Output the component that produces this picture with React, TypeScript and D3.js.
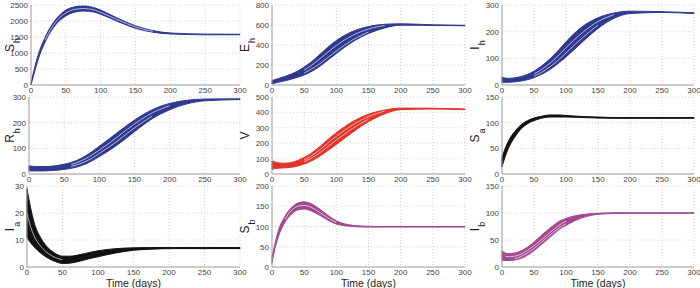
import React from 'react';
import * as d3 from 'd3';

// sample times (days)
const T = [0, 5, 10, 20, 30, 40, 50, 60, 75, 90, 100, 125, 150, 175, 200, 250, 300];
const xTicks = [0, 50, 100, 150, 200, 250, 300];
const _ = null;

// S_h
const shUpper = [60, 520, 920, 1480, 1880, 2160, 2340, 2430, 2470, 2420, 2340, 2080, 1850, 1700, 1625, 1590, 1585];
const shLower = [0, 400, 780, 1330, 1720, 1990, 2160, 2260, 2310, 2280, 2210, 1980, 1770, 1650, 1595, 1570, 1570];
const shWhite = [_, _, _, 1400, 1800, 2080, 2250, 2350, 2390, 2350, 2270, 2030, 1810, 1675, _, _, _];
// E_h
const ehUpper = [45, 55, 65, 85, 110, 140, 180, 225, 310, 395, 445, 535, 585, 607, 612, 602, 597];
const ehLower = [10, 20, 28, 42, 58, 78, 100, 130, 190, 265, 315, 430, 515, 570, 598, 596, 592];
const ehWhite1 = [_, _, _, _, _, _, 150, 190, 265, 345, 395, 495, 560, 595, _, _, _];
const ehWhite2 = [_, _, _, _, _, _, 120, 155, 215, 290, 340, 450, 530, _, _, _, _];
// I_h
const ihUpper = [30, 26, 25, 27, 32, 40, 52, 68, 98, 135, 162, 218, 252, 270, 277, 275, 271];
const ihLower = [10, 10, 10, 12, 15, 20, 28, 38, 58, 85, 105, 160, 212, 250, 268, 272, 268];
const ihWhite1 = [_, _, _, _, _, _, 42, 55, 82, 115, 140, 195, 238, 264, _, _, _];
const ihWhite2 = [_, _, _, _, _, _, 34, 45, 68, 98, 120, 176, 225, _, _, _, _];
// R_h
const rhUpper = [32, 30, 29, 29, 30, 33, 38, 45, 62, 88, 108, 160, 210, 250, 275, 292, 293];
const rhLower = [12, 12, 12, 12, 13, 15, 18, 22, 33, 52, 68, 112, 165, 215, 250, 285, 290];
const rhWhite1 = [_, _, _, _, _, _, _, 37, 52, 75, 93, 143, 195, 238, 266, _, _];
const rhWhite2 = [_, _, _, _, _, _, _, 30, 42, 62, 80, 127, 180, 225, _, _, _];
// V
const vUpper = [85, 78, 72, 70, 75, 88, 108, 132, 180, 235, 268, 340, 388, 415, 428, 427, 422];
const vLower = [30, 35, 38, 40, 44, 52, 65, 82, 118, 162, 192, 270, 340, 390, 418, 422, 418];
const vWhite1 = [_, _, _, _, _, _, 92, 115, 160, 212, 245, 318, 373, 408, _, _, _];
const vWhite2 = [_, _, _, _, _, _, 80, 100, 140, 188, 220, 295, 356, _, _, _, _];
// S_a
const saUpper = [32, 50, 64, 83, 96, 104, 109, 112, 115, 115, 114, 112, 111, 110, 110, 110, 110];
const saLower = [14, 34, 50, 72, 88, 98, 104, 108, 111, 111, 111, 110, 109, 108.5, 108.5, 108.5, 108.5];
// I_a
const iaUpper = [29, 22, 16.5, 10.5, 7, 5, 4, 4, 4.6, 5.5, 6, 6.8, 7.1, 7.2, 7.2, 7.2, 7.2];
const iaLower = [11, 9, 7.5, 5, 3.2, 2, 1.3, 1.4, 2.2, 3.2, 3.8, 5.2, 6.2, 6.6, 6.8, 6.8, 6.8];
const iaWhite = [20, 15, 11.5, 7.5, 5, 3.5, 2.7, _, _, _, _, _, _, _, _, _, _];
// S_b
const sbUpper = [25, 60, 90, 125, 146, 158, 161, 157, 142, 124, 114, 103, 100.5, 100, 100, 100, 100];
const sbLower = [10, 48, 75, 110, 130, 141, 143, 139, 127, 113, 106, 100, 98.5, 98.5, 98.5, 98.5, 98.5];
const sbWhite = [_, _, _, 118, 139, 150, 152, 148, 134, 118, 110, _, _, _, _, _, _];
// I_b
const ibUpper = [30, 26, 25, 26, 30, 37, 46, 57, 72, 85, 90, 97, 99.5, 100.5, 100.5, 100.5, 100.5];
const ibLower = [12, 12, 12, 13, 16, 22, 30, 40, 55, 70, 77, 91, 97.5, 99, 99.5, 99.5, 99.5];
const ibWhite1 = [_, 20, 19, 20, 24, 31, 39, 49, 64, 78, 85, _, _, _, _, _, _];
const ibWhite2 = [_, _, _, 15.5, 19.5, 26, 34, 44, 59, 73, 80, _, _, _, _, _, _];

const BLUE = '#2f3990';
const RED = '#e5322b';
const BLACK = '#111111';
const PURPLE = '#a2498f';

const panels = [
  { main: 'S', sub: 'h', color: BLUE, upper: shUpper, lower: shLower, whites: [shWhite], yTicks: [0, 500, 1000, 1500, 2000, 2500] },
  { main: 'E', sub: 'h', color: BLUE, upper: ehUpper, lower: ehLower, whites: [ehWhite1, ehWhite2], yTicks: [0, 200, 400, 600, 800] },
  { main: 'I', sub: 'h', color: BLUE, upper: ihUpper, lower: ihLower, whites: [ihWhite1, ihWhite2], yTicks: [0, 100, 200, 300] },
  { main: 'R', sub: 'h', color: BLUE, upper: rhUpper, lower: rhLower, whites: [rhWhite1, rhWhite2], yTicks: [0, 100, 200, 300] },
  { main: 'V', sub: '', color: RED, upper: vUpper, lower: vLower, whites: [vWhite1, vWhite2], yTicks: [0, 100, 200, 300, 400, 500] },
  { main: 'S', sub: 'a', color: BLACK, upper: saUpper, lower: saLower, whites: [], yTicks: [0, 50, 100, 150] },
  { main: 'I', sub: 'a', color: BLACK, upper: iaUpper, lower: iaLower, whites: [iaWhite], yTicks: [0, 10, 20, 30] },
  { main: 'S', sub: 'b', color: PURPLE, upper: sbUpper, lower: sbLower, whites: [sbWhite], yTicks: [0, 50, 100, 150, 200] },
  { main: 'I', sub: 'b', color: PURPLE, upper: ibUpper, lower: ibLower, whites: [ibWhite1, ibWhite2], yTicks: [0, 50, 100, 150] },
];

// layout
const colLeft = [[31, 29, 27], [272, 272, 272], [502, 502, 502]];
const colRight = [240, 465, 694];
const rowTop = [5, 97, 186];
const rowBottom = [85, 174, 267];
const labelX = [14, 249, 479];
const FONT = "'Liberation Sans', Arial, sans-serif";

const Panel = ({ p, i }) => {
  const col = i % 3;
  const row = Math.floor(i / 3);
  const x0 = colLeft[col][row];
  const x1 = colRight[col];
  const y0 = rowTop[row];
  const y1 = rowBottom[row];
  const yMax = p.yTicks[p.yTicks.length - 1];
  const x = d3.scaleLinear().domain([0, 300]).range([x0, x1]);
  const y = d3.scaleLinear().domain([0, yMax]).range([y1, y0]);

  const area = d3.area()
    .x((d, k) => x(T[k]))
    .y0((d, k) => y(p.lower[k]))
    .y1((d, k) => y(p.upper[k]))
    .curve(d3.curveMonotoneX);
  const line = d3.line()
    .defined(d => d != null)
    .x((d, k) => x(T[k]))
    .y(d => y(d))
    .curve(d3.curveMonotoneX);

  return (
    <g>
      {/* grid */}
      {xTicks.slice(1).map(t => (
        <line key={'gx' + t} x1={x(t)} x2={x(t)} y1={y0} y2={y1} stroke="#c8c8c8" strokeWidth={0.8} strokeDasharray="1,2" />
      ))}
      {p.yTicks.slice(1).map(t => (
        <line key={'gy' + t} x1={x0} x2={x1} y1={y(t)} y2={y(t)} stroke="#c8c8c8" strokeWidth={0.8} strokeDasharray="1,2" />
      ))}
      {/* band */}
      <path d={area(p.upper)} fill={p.color} stroke={p.color} strokeWidth={1} />
      {p.whites.map((w, k) => (
        <path key={k} d={line(w)} fill="none" stroke="#fff" strokeOpacity={0.8} strokeWidth={0.8} />
      ))}
      {/* axes */}
      <line x1={x0} x2={x0} y1={y0} y2={y1} stroke="#9a9a9a" strokeWidth={1} />
      <line x1={x0} x2={x1} y1={y1} y2={y1} stroke="#9a9a9a" strokeWidth={1} />
      {xTicks.map(t => (
        <text key={'tx' + t} x={x(t)} y={y1 + 8} fontSize={8} fill="#444" textAnchor="middle" fontFamily={FONT}>{t}</text>
      ))}
      {p.yTicks.map(t => (
        <text key={'ty' + t} x={x0 - 3} y={y(t) + 3} fontSize={8} fill="#444" textAnchor="end" fontFamily={FONT}>{t}</text>
      ))}
      {/* y label */}
      <text transform={`translate(${labelX[col]},${(y0 + y1) / 2}) rotate(-90)`} textAnchor="middle" fontSize={12} fill="#222" fontFamily={FONT}>
        {p.main}
        {p.sub && <tspan fontSize={9} dy={6} dx={1}>{p.sub}</tspan>}
      </text>
      {row === 2 && (
        <text x={(x0 + x1) / 2} y={287} textAnchor="middle" fontSize={10.5} fill="#222" fontFamily={FONT}>Time (days)</text>
      )}
    </g>
  );
};

const App = () => (
  <svg width={700} height={288} style={{ position: 'absolute', left: 0, top: 0, background: '#fff' }}>
    <rect width={700} height={288} fill="#fff" />
    {panels.map((p, i) => <Panel key={i} p={p} i={i} />)}
  </svg>
);

export default App;
